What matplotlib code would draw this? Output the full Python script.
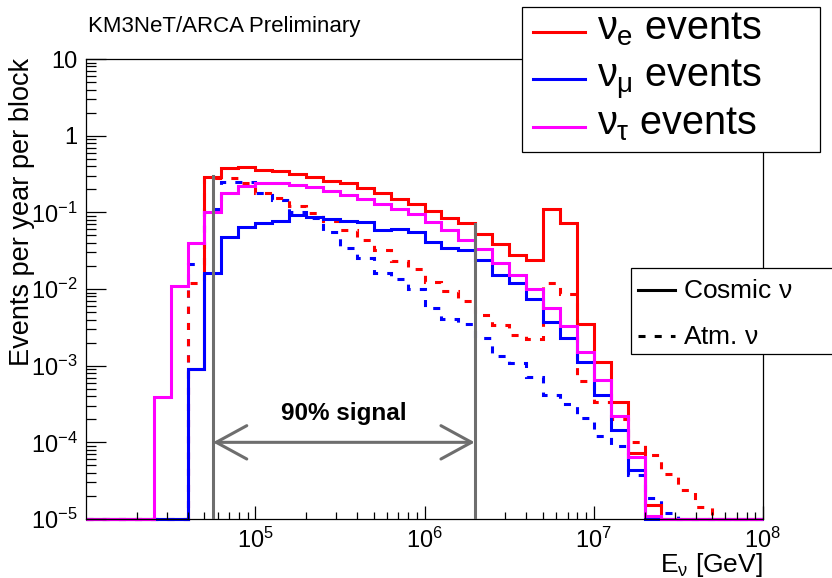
import numpy as np
import matplotlib
matplotlib.use("Agg")
import matplotlib.pyplot as plt
from matplotlib.lines import Line2D
from matplotlib.patches import Rectangle, FancyArrowPatch
from matplotlib.ticker import FixedLocator, FixedFormatter, LogLocator, NullFormatter

plt.rcParams['font.family'] = ['Liberation Sans', 'DejaVu Sans']
plt.rcParams['mathtext.fontset'] = 'custom'
plt.rcParams['mathtext.rm'] = 'Liberation Sans'
plt.rcParams['mathtext.it'] = 'Liberation Sans'
plt.rcParams['mathtext.bf'] = 'Liberation Sans:bold'

# 40 bins, 10 per decade from 1e4 to 1e8 GeV
log_lo, log_hi, nbins = 4, 8, 40

# cosmic neutrino events per bin
nue_cosmic = [0, 0, 0, 0, 0, 0, 9e-4, 0.29, 0.38, 0.39,
              0.36, 0.35, 0.32, 0.29, 0.26, 0.24, 0.21, 0.18, 0.15, 0.13,
              0.105, 0.085, 0.072, 0.052, 0.039, 0.028, 0.024, 0.11, 0.072, 0.0035,
              0.0011, 3.4e-4, 7.2e-5, 1.5e-5, 0, 0, 0, 0, 0, 0]
numu_cosmic = [0, 0, 0, 0, 0, 0, 9e-4, 0.016, 0.048, 0.065,
               0.072, 0.078, 0.093, 0.088, 0.081, 0.078, 0.075, 0.059, 0.061, 0.056,
               0.041, 0.034, 0.032, 0.024, 0.015, 0.012, 0.0074, 0.0037, 0.0023, 0.0011,
               4.1e-4, 1.45e-4, 4.3e-5, 0, 0, 0, 0, 0, 0, 0]
nutau_cosmic = [0, 0, 0, 0, 3.9e-4, 0.011, 0.04, 0.10, 0.18, 0.22,
                0.24, 0.24, 0.23, 0.215, 0.19, 0.17, 0.15, 0.13, 0.11, 0.095,
                0.075, 0.058, 0.044, 0.033, 0.022, 0.015, 0.010, 0.0057, 0.0033, 0.0015,
                6.5e-4, 2.2e-4, 6.5e-5, 1.1e-5, 0, 0, 0, 0, 0, 0]

# atmospheric neutrino events per bin
nue_atm = [0, 0, 0, 0, 0, 0, 0.012, 0.28, 0.28, 0.24,
           0.18, 0.155, 0.12, 0.098, 0.076, 0.058, 0.044, 0.032, 0.023, 0.018,
           0.0125, 0.0093, 0.0069, 0.0046, 0.0034, 0.0025, 0.0022, 0.012, 0.0087, 6.3e-4,
           3.4e-4, 2.0e-4, 1.0e-4, 6.9e-5, 3.9e-5, 2.4e-5, 1.45e-5, 0, 0, 0]
numu_atm = [0, 0, 0, 0, 0, 0, 0.021, 0.11, 0.25, 0.245,
            0.18, 0.145, 0.10, 0.085, 0.055, 0.034, 0.025, 0.016, 0.0135, 0.010,
            0.0056, 0.0041, 0.0035, 0.0023, 0.00135, 0.00107, 7.2e-4, 4.1e-4, 3.2e-4, 2.1e-4,
            1.2e-4, 8.9e-5, 3.7e-5, 1.9e-5, 1.2e-5, 0, 0, 0, 0, 0]

# 90% signal window
cut_lo, cut_hi = 5.63e4, 1.98e6
cut_tops = [0.30, 0.07]
arrow_y = 1e-4

ymin, ymax = 1e-5, 10
y_ticks = [1e-5, 1e-4, 1e-3, 1e-2, 1e-1, 1, 10]
y_labels = ['$10^{-5}$', '$10^{-4}$', '$10^{-3}$', '$10^{-2}$', '$10^{-1}$', '1', '10']
x_ticks = [1e5, 1e6, 1e7, 1e8]
x_labels = ['$10^{5}$', '$10^{6}$', '$10^{7}$', '$10^{8}$']

legend_flavours = [r'$\nu_{e}$ events', r'$\nu_{\mu}$ events', r'$\nu_{\tau}$ events']
legend_colors = ['#ff0000', '#0000ff', '#ff00ff']
legend_types = [r'Cosmic $\nu$', r'Atm. $\nu$']

W, H = 832, 578
fig = plt.figure(figsize=(W / 100, H / 100), dpi=100)
ax = fig.add_axes([86 / W, 1 - 519 / H, 677 / W, 460 / H])

edges = 10 ** np.linspace(log_lo, log_hi, nbins + 1)
lw = 2.2
dash = (0, (2.3, 3.0))

def draw(vals, color, ls):
    v = np.maximum(np.array(vals, dtype=float), ymin)
    ax.stairs(v, edges, baseline=None, color=color, lw=lw, linestyle=ls, clip_on=False)

draw(numu_atm, '#0000ff', dash)
draw(nue_atm, '#ff0000', dash)
draw(nue_cosmic, '#ff0000', '-')
draw(numu_cosmic, '#0000ff', '-')
draw(nutau_cosmic, '#ff00ff', '-')

gray = '#6e6e6e'
for xc, top in zip([cut_lo, cut_hi], cut_tops):
    ax.plot([xc, xc], [ymin, top], color=gray, lw=2.2, zorder=5)
arr = FancyArrowPatch((cut_lo, arrow_y), (cut_hi, arrow_y),
                      arrowstyle='<->,head_length=22,head_width=12',
                      mutation_scale=1, shrinkA=0, shrinkB=0,
                      color=gray, lw=2.2, zorder=5)
ax.add_patch(arr)
ax.text(np.sqrt(cut_lo * cut_hi), 1.95e-4, '90% signal', ha='center', va='baseline',
        fontsize=17.5, fontweight='bold')

ax.set_xscale('log')
ax.set_yscale('log')
ax.set_xlim(edges[0], edges[-1])
ax.set_ylim(ymin, ymax)

ax.yaxis.set_major_locator(FixedLocator(y_ticks))
ax.yaxis.set_major_formatter(FixedFormatter(y_labels))
ax.yaxis.set_minor_locator(LogLocator(base=10, subs=np.arange(2, 10), numticks=20))
ax.yaxis.set_minor_formatter(NullFormatter())
ax.xaxis.set_major_locator(FixedLocator(x_ticks))
ax.xaxis.set_major_formatter(FixedFormatter(x_labels))
ax.xaxis.set_minor_locator(LogLocator(base=10, subs=np.arange(2, 10), numticks=20))
ax.xaxis.set_minor_formatter(NullFormatter())

ax.tick_params(axis='y', which='major', direction='in', length=14.4, width=0.9, labelsize=17, pad=6)
ax.tick_params(axis='y', which='minor', direction='in', length=7.2, width=0.9)
ax.tick_params(axis='x', which='major', direction='in', length=9.5, width=0.9, labelsize=17, pad=6)
ax.tick_params(axis='x', which='minor', direction='in', length=5, width=0.9)
for s in ax.spines.values():
    s.set_linewidth(0.9)

fig.text(88 / W, 1 - 32 / H, 'KM3NeT/ARCA Preliminary', fontsize=16, va='baseline', ha='left')
fig.text(763 / W, 1 - 572 / H, r'E$_{\nu}$ [GeV]', fontsize=19, ha='right', va='baseline')
fig.text(22 / W, 1 - 58 / H, 'Events per year per block', fontsize=19.5, rotation=90,
         ha='center', va='top')

# flavour legend box
fig.add_artist(Rectangle((522 / W, 1 - 152 / H), 298 / W, 145 / H, transform=fig.transFigure,
                         facecolor='white', edgecolor='black', lw=0.9, zorder=10))
for i, (lab, col) in enumerate(zip(legend_flavours, legend_colors)):
    yl = 32 + 47.5 * i
    fig.add_artist(Line2D([533 / W, 585 / W], [1 - yl / H, 1 - yl / H], transform=fig.transFigure,
                          color=col, lw=2.2, zorder=11))
    fig.text(597 / W, 1 - (yl + 7) / H, lab, fontsize=28.5, va='baseline', ha='left', zorder=11)

# cosmic / atmospheric legend box
fig.add_artist(Rectangle((631 / W, 1 - 354 / H), 210 / W, 86 / H, transform=fig.transFigure,
                         facecolor='white', edgecolor='black', lw=0.9, zorder=10))
for i, (lab, ls) in enumerate(zip(legend_types, ['-', dash])):
    yl = 290 + 46 * i
    fig.add_artist(Line2D([638 / W, 675 / W], [1 - yl / H, 1 - yl / H], transform=fig.transFigure,
                          color='black', lw=2.2, linestyle=ls, zorder=11))
    fig.text(683 / W, 1 - (yl + 8) / H, lab, fontsize=19, va='baseline', ha='left', zorder=11)

fig.savefig('out.png', dpi=100)
